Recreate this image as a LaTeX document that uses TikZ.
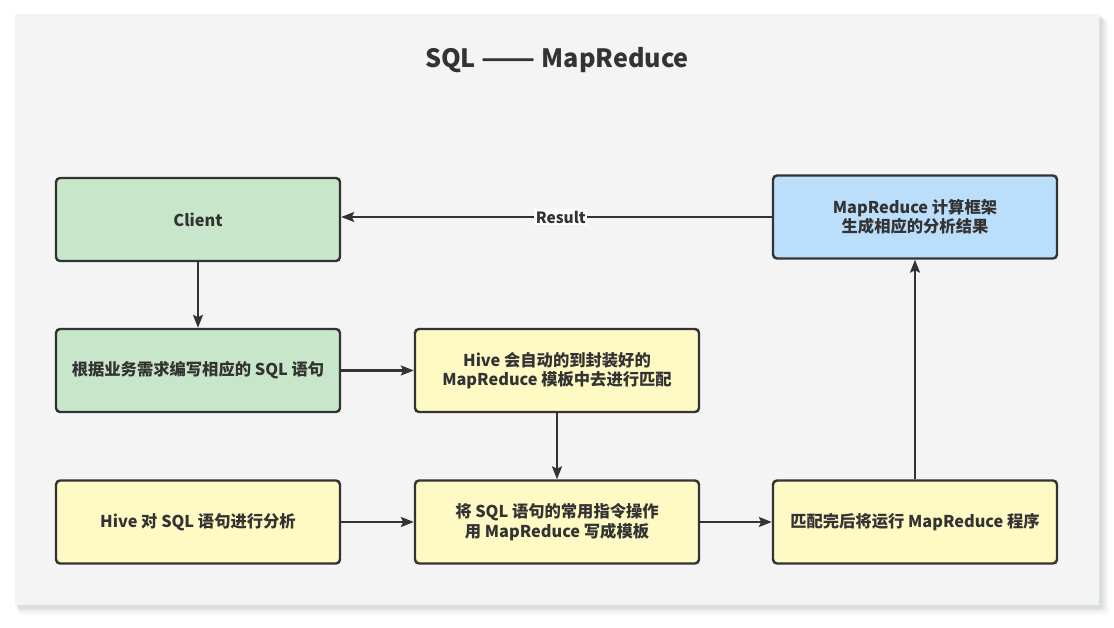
\documentclass[tikz,border=0pt]{standalone}
\usepackage{fontspec}
\setmainfont{Noto Sans CJK SC}
\usetikzlibrary{arrows.meta,positioning}
\definecolor{panel}{HTML}{F4F4F4}
\definecolor{shadowc}{HTML}{B8C2C8}
\definecolor{ink}{HTML}{333333}
\definecolor{gfill}{HTML}{C8E6C9}
\definecolor{bfill}{HTML}{BBDEFB}
\definecolor{yfill}{HTML}{FFF9C4}
\tikzset{
  x=1pt,y=-1pt,
  box/.style={draw=ink,line width=2.4pt,rounded corners=4pt,minimum width=284pt,minimum height=83pt,
    align=center,text=ink,font=\fontsize{16.3}{19.5}\selectfont\bfseries,inner sep=0pt},
  gbox/.style={box,fill=gfill},
  bbox/.style={box,fill=bfill},
  ybox/.style={box,fill=yfill},
  conn/.style={draw=ink,line width=2.4pt,-{Stealth[length=13pt,width=10pt,inset=2.5pt]}},
}
\begin{document}
\begin{tikzpicture}
\useasboundingbox (0,0) rectangle (1114,628);
% shadow
\foreach \o/\a in {10/0.08,8/0.12,6/0.18,4/0.3}{
  \fill[shadowc,opacity=\a,rounded corners=3pt] (15+\o*0.4,14+\o*0.6) rectangle (1099+\o,605+\o);
}
\fill[panel] (15,14) rectangle (1099,605);
\node[text=ink,font=\fontsize{25.2}{29}\selectfont\bfseries] (title) at (557,60.5) {SQL \scalebox{1.25}[1]{——} MapReduce};
\node[gbox] (client) at (198,219.5) {Client};
\node[bbox] (mr) at (915,217) {MapReduce 计算框架\\生成相应的分析结果};
\node[gbox] (sql) at (198,370.5) {根据业务需求编写相应的 SQL 语句};
\node[ybox] (match) at (557,370.5) {Hive 会自动的到封装好的\\MapReduce 模板中去进行匹配};
\node[ybox] (analyze) at (198,522) {Hive 对 SQL 语句进行分析};
\node[ybox] (tmpl) at (557,522) {将 SQL 语句的常用指令操作\\用 MapReduce 写成模板};
\node[ybox] (run) at (915,522) {匹配完后将运行 MapReduce 程序};
\draw[conn] (mr.west) -- (mr.west -| client.east)
  node[pos=0.49,fill=white,inner sep=1.5pt,text=ink,font=\fontsize{15.5}{18}\selectfont\bfseries] (res) {Result};
\draw[conn] (client.south) -- (sql.north);
\draw[conn] (sql.east) -- (match.west);
\draw[conn] (match.south) -- (tmpl.north);
\draw[conn] (analyze.east) -- (tmpl.west);
\draw[conn] (tmpl.east) -- (run.west);
\draw[conn] (run.north) -- (mr.south);
\end{tikzpicture}
\end{document}
